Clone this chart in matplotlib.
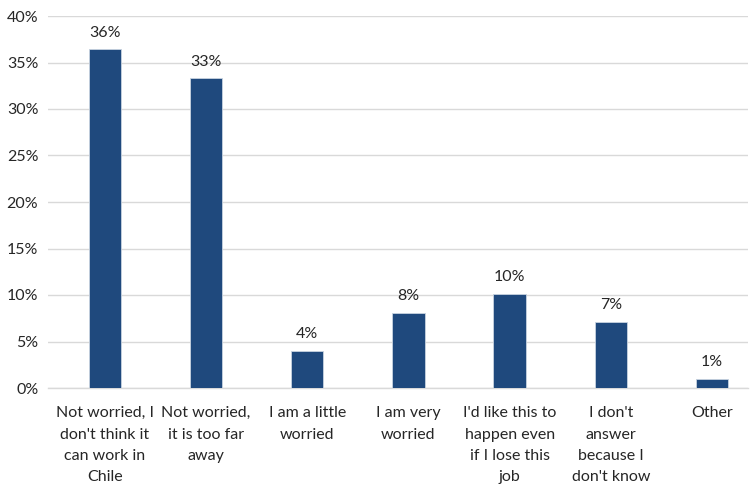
import matplotlib
matplotlib.use('Agg')
import matplotlib.pyplot as plt
from matplotlib.ticker import FuncFormatter

categories = [
    "Not worried, I\ndon't think it\ncan work in\nChile",
    "Not worried,\nit is too far\naway",
    "I am a little\nworried",
    "I am very\nworried",
    "I'd like this to\nhappen even\nif I lose this\njob",
    "I don't\nanswer\nbecause I\ndon't know",
    "Other",
]
values = [36.4, 33.3, 4.0, 8.1, 10.1, 7.1, 1.0]
bar_labels = ["36%", "33%", "4%", "8%", "10%", "7%", "1%"]

plt.rcParams['font.family'] = ['Lato', 'DejaVu Sans']

fig = plt.figure(figsize=(7.54, 4.88), dpi=100)
ax = fig.add_axes([48 / 754, 100 / 488, 700 / 754, 372 / 488])

x = list(range(len(categories)))
bars = ax.bar(x, values, width=0.32, color='#1f497d', edgecolor='#c8d3e0',
              linewidth=0.6, zorder=3)

for b, lab in zip(bars, bar_labels):
    ax.annotate(lab, (b.get_x() + b.get_width() / 2, b.get_height()),
                xytext=(0, 7), textcoords='offset points',
                ha='center', va='bottom', fontsize=11.5, color='#262626')

ax.set_ylim(0, 40)
ax.set_xlim(-0.563, 6.356)
ax.set_yticks(range(0, 41, 5))
ax.yaxis.set_major_formatter(FuncFormatter(lambda v, p: f"{int(v)}%"))
ax.grid(axis='y', color='#d9d9d9', linewidth=1, zorder=0)

ax.set_xticks(x)
ax.set_xticklabels(categories, fontsize=11.5, color='#262626', linespacing=1.68)
ax.tick_params(axis='y', labelsize=11.5, colors='#262626', length=0, pad=7)
ax.tick_params(axis='x', length=0, pad=13)

for s in ['top', 'right', 'left']:
    ax.spines[s].set_visible(False)
ax.spines['bottom'].set_color('#d9d9d9')
ax.spines['bottom'].set_linewidth(1)

fig.savefig('out.png', dpi=100)
